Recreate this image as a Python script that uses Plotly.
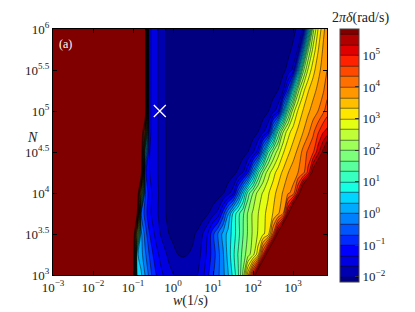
import numpy as np
import plotly.graph_objects as go

# ---- data: log10 coordinates ----
log_w = [-3.0, -2.0, -1.1, -1.0, -0.9, -0.8, -0.7, -0.6, -0.5, -0.4, -0.3, -0.2, -0.1, 0.0,
         0.125, 0.25, 0.375, 0.5, 0.625, 0.75, 0.875, 1.0, 1.125, 1.25, 1.375, 1.5, 1.625,
         1.75, 1.875, 2.0, 2.125, 2.25, 2.375, 2.5, 2.625, 2.75, 2.875, 3.0, 3.125, 3.25,
         3.375, 3.5, 3.625, 3.75, 3.85]
log_N = [3.0, 3.25, 3.5, 3.75, 4.0, 4.25, 4.5, 4.75, 5.0, 5.25, 5.5, 5.75, 6.0]

# log10(2*pi*delta) along each row of constant N (45 values per row)
z_N3_00 = [7, 7, 7, 7, 0.6, 0.4, 0.0, -0.4, -0.8, -1.05, -1.25, -1.4, -1.55, -1.65,
           -1.75, -1.8, -1.8, -1.78, -1.65, -1.4, -1.05, -0.7, -0.4, -0.1, 0.3, 0.75, 1.25,
           2.07, 3.57, 5.07, 6.57, 8.07, 9.57, 10, 10, 10, 10, 10, 10, 10, 10, 10, 10, 10, 10]
z_N3_25 = [7, 7, 7, 7, 0.4, 0.15, -0.25, -0.65, -1.0, -1.25, -1.45, -1.6, -1.75, -1.88,
           -2.0, -2.03, -2.0, -1.93, -1.78, -1.55, -1.2, -0.85, -0.45, -0.05, 0.45, 0.9, 1.35,
           1.8, 2.2, 2.55, 3.21, 4.71, 6.21, 7.71, 9.21, 10, 10, 10, 10, 10, 10, 10, 10, 10, 10]
z_N3_50 = [7, 7, 7, 7, 3.0, 0.1, -0.45, -0.95, -1.25, -1.5, -1.7, -1.85, -2.0, -2.1,
           -2.2, -2.25, -2.2, -2.07, -1.9, -1.65, -1.3, -0.75, -0.3, 0.1, 0.45, 0.8, 1.2,
           1.65, 2.05, 2.4, 2.7, 2.95, 3.15, 4.35, 5.85, 7.35, 8.85, 10, 10, 10, 10, 10, 10, 10, 10]
z_N3_75 = [7, 7, 7, 7, 6.0, -0.3, -0.8, -1.2, -1.45, -1.62, -1.78, -1.97, -2.1, -2.2,
           -2.3, -2.35, -2.38, -2.38, -2.33, -2.18, -2.03, -1.77, -1.55, -0.85, -0.05, 0.7, 1.2,
           1.6, 2.05, 2.4, 2.65, 2.9, 3.1, 3.35, 3.6, 3.99, 5.49, 6.99, 8.49, 10, 10, 10, 10, 10, 10]
z_N4_00 = [7, 7, 7, 7, 7, 3.0, -0.6, -1.15, -1.42, -1.6, -1.77, -1.97, -2.1, -2.2,
           -2.3, -2.38, -2.42, -2.45, -2.45, -2.42, -2.38, -2.32, -2.19, -2.04, -1.78, -1.5, -0.5,
           0.5, 1.5, 2.0, 2.45, 2.7, 2.95, 3.2, 3.45, 3.7, 3.95, 4.1, 5.13, 6.63, 8.13, 9.63,
           10, 10, 10]
z_N4_25 = [7, 7, 7, 7, 7, 6.5, -0.9, -1.3, -1.5, -1.63, -1.78, -1.97, -2.1, -2.2,
           -2.32, -2.4, -2.45, -2.48, -2.5, -2.5, -2.48, -2.45, -2.4, -2.33, -2.24, -2.12, -1.94,
           -1.66, -1.0, 0.12, 1.25, 2.0, 2.5, 2.85, 3.15, 3.4, 3.65, 3.85, 4.0, 4.2, 4.77, 5.9,
           6.45, 8, 9]
z_N4_50 = [7, 7, 7, 7, 7, 7, 1.0, -1.3, -1.5, -1.63, -1.78, -1.97, -2.1, -2.2,
           -2.32, -2.4, -2.45, -2.48, -2.5, -2.52, -2.52, -2.52, -2.5, -2.48, -2.44, -2.38, -2.3,
           -2.15, -2.0, -1.72, -1.2, 0.05, 1.3, 2.0, 2.5, 2.95, 3.25, 3.5, 3.75, 4.1, 4.4, 4.6,
           5.2, 5.75, 6.3]
z_N4_75 = [7, 7, 7, 7, 7, 7, 4.0, -1.2, -1.48, -1.63, -1.78, -1.97, -2.1, -2.2,
           -2.32, -2.4, -2.45, -2.48, -2.5, -2.52, -2.53, -2.53, -2.53, -2.52, -2.5, -2.47, -2.42,
           -2.36, -2.28, -2.17, -2.02, -1.76, -1.39, -0.01, 1.36, 2.3, 2.85, 3.15, 3.4, 3.65, 3.9,
           4.25, 4.6, 4.95, 5.1]
z_N5_00 = [7, 7, 7, 7, 7, 7, 7, -1.2, -1.48, -1.63, -1.8, -1.98, -2.12, -2.22,
           -2.32, -2.4, -2.45, -2.48, -2.5, -2.52, -2.53, -2.54, -2.54, -2.54, -2.53, -2.52, -2.5,
           -2.46, -2.41, -2.35, -2.27, -2.17, -2.04, -1.78, -1.5, 0.0, 1.5, 2.5, 3.05, 3.35, 3.6,
           3.8, 4.0, 4.25, 4.5]
z_N5_25 = [7, 7, 7, 7, 7, 7, 7, -1.2, -1.48, -1.63, -1.8, -1.98, -2.12, -2.22,
           -2.32, -2.4, -2.45, -2.48, -2.5, -2.52, -2.53, -2.54, -2.55, -2.55, -2.55, -2.54, -2.53,
           -2.51, -2.48, -2.45, -2.4, -2.34, -2.26, -2.15, -2.0, -1.7, -0.79, 0.84, 2.2, 2.9, 3.3,
           3.55, 3.75, 3.95, 4.2]
z_N5_50 = [7, 7, 7, 7, 7, 7, 7, -1.2, -1.48, -1.63, -1.8, -1.98, -2.12, -2.22,
           -2.32, -2.4, -2.45, -2.48, -2.5, -2.52, -2.53, -2.54, -2.55, -2.55, -2.55, -2.55, -2.55,
           -2.54, -2.52, -2.5, -2.47, -2.43, -2.37, -2.3, -2.22, -2.1, -1.89, -1.6, 0.11, 1.86,
           2.7, 3.2, 3.55, 3.8, 4.0]
z_N5_75 = [7, 7, 7, 7, 7, 7, 7, -1.2, -1.48, -1.63, -1.8, -1.98, -2.12, -2.22,
           -2.32, -2.4, -2.45, -2.48, -2.5, -2.52, -2.53, -2.54, -2.55, -2.55, -2.55, -2.55, -2.55,
           -2.55, -2.54, -2.53, -2.51, -2.48, -2.44, -2.39, -2.32, -2.24, -2.11, -1.93, -1.65,
           0.0, 1.9, 2.75, 3.3, 3.7, 3.95]
z_N6_00 = [7, 7, 7, 7, 7, 7, 7, -1.2, -1.48, -1.63, -1.8, -1.98, -2.12, -2.22,
           -2.32, -2.4, -2.45, -2.48, -2.5, -2.52, -2.53, -2.54, -2.55, -2.55, -2.55, -2.55, -2.55,
           -2.55, -2.55, -2.54, -2.53, -2.51, -2.48, -2.45, -2.4, -2.33, -2.25, -2.11, -1.92,
           -1.64, 0.18, 2.18, 3.0, 3.55, 3.85]

log_delta = [z_N3_00, z_N3_25, z_N3_50, z_N3_75, z_N4_00, z_N4_25, z_N4_50,
             z_N4_75, z_N5_00, z_N5_25, z_N5_50, z_N5_75, z_N6_00]

x_ticks = [-3, -2, -1, 0, 1, 2, 3]
x_labels = ['10<sup>−3</sup>', '10<sup>−2</sup>', '10<sup>−1</sup>', '10<sup>0</sup>',
            '10<sup>1</sup>', '10<sup>2</sup>', '10<sup>3</sup>']
y_ticks = [3, 3.5, 4, 4.5, 5, 5.5, 6]
y_labels = ['10<sup>3</sup>', '10<sup>3.5</sup>', '10<sup>4</sup>', '10<sup>4.5</sup>',
            '10<sup>5</sup>', '10<sup>5.5</sup>', '10<sup>6</sup>']
cb_ticks = [-2, -1, 0, 1, 2, 3, 4, 5]
cb_labels = ['10<sup>−2</sup>', '10<sup>−1</sup>', '10<sup>0</sup>', '10<sup>1</sup>',
             '10<sup>2</sup>', '10<sup>3</sup>', '10<sup>4</sup>', '10<sup>5</sup>']

marker_log_w = [-0.33]
marker_log_N = [5.0]

# ---- matplotlib "jet" colormap ----
bp = [0, 0.11, 0.125, 0.34, 0.35, 0.375, 0.64, 0.65, 0.66, 0.89, 0.91, 1.0]
def jet(t):
    r = np.interp(t, [0, 0.35, 0.66, 0.89, 1], [0, 0, 1, 1, 0.5])
    g = np.interp(t, [0, 0.125, 0.375, 0.64, 0.91, 1], [0, 0, 1, 1, 0, 0])
    b = np.interp(t, [0, 0.11, 0.34, 0.65, 1], [0.5, 1, 1, 0, 0])
    return 'rgb(%d,%d,%d)' % (round(r * 255), round(g * 255), round(b * 255))
jet_scale = [[t, jet(t)] for t in bp]

FONT = 'Liberation Serif'
TXT = '#222'

fig = go.Figure()
fig.add_trace(go.Contour(
    x=log_w, y=log_N, z=log_delta,
    colorscale=jet_scale,
    autocontour=False,
    contours=dict(start=-2.0, end=5.67, size=1/3, coloring='fill', showlines=True),
    line=dict(color='black', width=0.5, smoothing=0.8),
    hoverinfo='skip',
    colorbar=dict(
        x=(340 - 53) / 274, xanchor='left', xref='paper',
        y=1.0, yanchor='top', yref='paper',
        len=253, lenmode='pixels', thickness=19, thicknessmode='pixels',
        outlinewidth=1, outlinecolor='#444',
        tickvals=cb_ticks, ticktext=cb_labels,
        ticks='inside', ticklen=4, tickcolor='#333',
        tickfont=dict(family=FONT, size=13, color=TXT),
        xpad=0, ypad=0,
    ),
))
fig.add_trace(go.Scatter(
    x=marker_log_w, y=marker_log_N, mode='markers',
    marker=dict(symbol='x-thin', size=12, line=dict(color='white', width=1.3)),
    hoverinfo='skip', showlegend=False,
))

axis_common = dict(showline=True, linecolor='black', linewidth=1, mirror='ticks',
                   ticks='inside', ticklen=4, tickcolor='black', showgrid=False,
                   zeroline=False, tickfont=dict(family=FONT, size=13, color=TXT))
fig.update_xaxes(range=[-3, 3.85], tickvals=x_ticks, ticktext=x_labels, **axis_common)
fig.update_yaxes(range=[3, 6], tickvals=y_ticks, ticktext=y_labels, **axis_common)

# the page body adds an 8px margin, so the figure is 8px smaller on each axis
fig.update_layout(
    width=407, height=304,
    margin=dict(l=45, r=88, t=15, b=37),
    paper_bgcolor='white', plot_bgcolor='white',
    showlegend=False,
    font=dict(family=FONT, color=TXT),
    annotations=[
        dict(text='<i>w</i>(1/<i>s</i>)', xref='paper', yref='paper', x=0.5, y=-0.107,
             xanchor='center', yanchor='middle', showarrow=False,
             font=dict(family=FONT, size=14, color=TXT)),
        dict(text='<i>N</i>', xref='paper', yref='paper', x=-0.047, y=0.56,
             xanchor='right', yanchor='middle', showarrow=False,
             font=dict(family=FONT, size=14, color=TXT)),
        dict(text='2<i>πδ</i>(rad/s)', xref='paper', yref='paper', x=(360 - 53) / 274, y=1.0,
             xanchor='center', yanchor='bottom', yshift=1, showarrow=False,
             font=dict(family=FONT, size=14, color=TXT)),
        dict(text='(a)', xref='paper', yref='paper', x=0.016, y=0.975,
             xanchor='left', yanchor='top', showarrow=False,
             font=dict(family=FONT, size=12, color='white')),
    ],
)

fig.write_html('out.html')
